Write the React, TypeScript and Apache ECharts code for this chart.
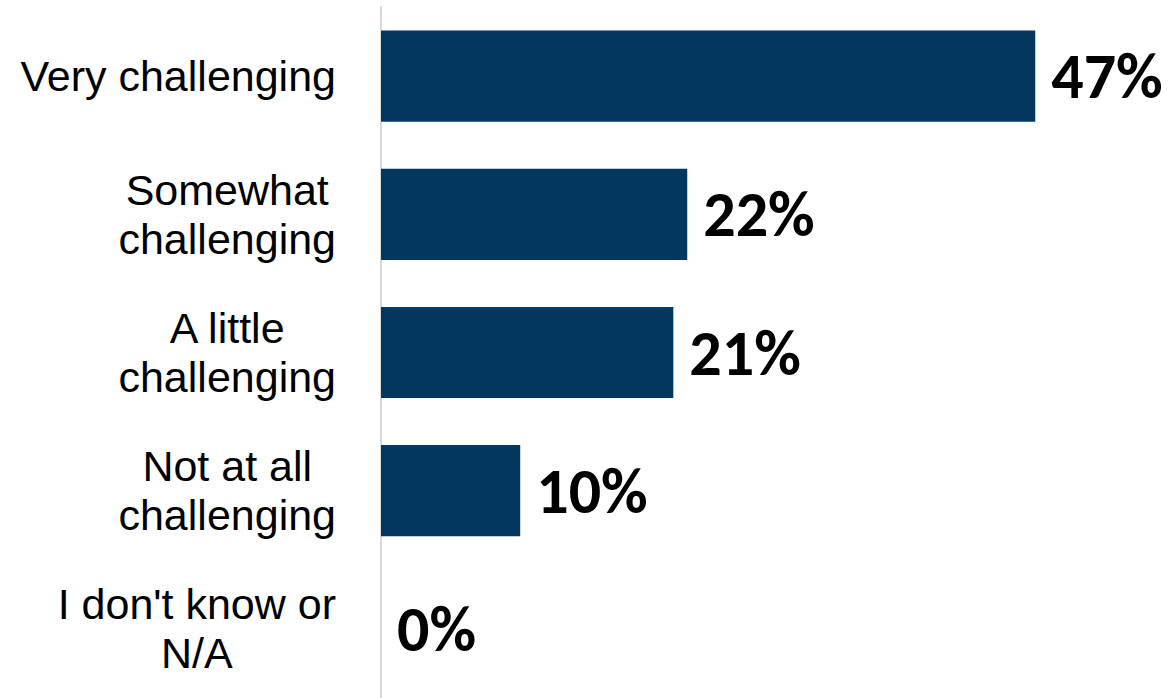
import React, { useEffect, useRef } from "react";
import * as echarts from "echarts";

const categories = [
  "Very challenging",
  "Somewhat\nchallenging",
  "A little\nchallenging",
  "Not at all\nchallenging",
  "I don't know or\nN/A",
];
const values = [47, 22, 21, 10, 0];

const LABEL_FONT = "'Liberation Sans', Arial, sans-serif";
const VALUE_FONT = "Carlito, Lato, sans-serif";

export default function App() {
  const ref = useRef<HTMLDivElement>(null);
  useEffect(() => {
    if (!ref.current) return;
    const chart = echarts.init(ref.current, undefined, { renderer: "svg" });
    chart.setOption({
      animation: false,
      backgroundColor: "#ffffff",
      grid: { left: 381, right: 91, top: 7, bottom: -3, containLabel: false },
      xAxis: {
        type: "value",
        min: 0,
        max: 50,
        show: false,
      },
      yAxis: {
        type: "category",
        data: categories,
        inverse: true,
        axisLine: { show: true, lineStyle: { color: "#d9d9d9", width: 2 } },
        axisTick: { show: false },
        axisLabel: {
          margin: 45,
          align: "right",
          fontFamily: LABEL_FONT,
          fontSize: 43,
          lineHeight: 49,
          color: "#000000",
          formatter: (v: string) =>
            v
              .split("\n")
              .map((s) => "{c|" + s + "}")
              .join("\n"),
          rich: {
            c: {
              align: "center",
              fontFamily: LABEL_FONT,
              fontSize: 43,
              lineHeight: 49,
              color: "#000000",
            },
          },
        },
      },
      series: [
        {
          type: "bar",
          data: values,
          barCategoryGap: "34%",
          itemStyle: { color: "#03375F" },
          label: {
            show: true,
            position: "right",
            distance: 16,
            formatter: "{c}%",
            fontFamily: VALUE_FONT,
            fontWeight: "bold",
            fontSize: 64,
            color: "#000000",
          },
        },
      ],
    });
    return () => chart.dispose();
  }, []);
  return (
    <div
      ref={ref}
      style={{ position: "fixed", left: 0, top: 0, width: 1168, height: 698, background: "#fff" }}
    />
  );
}
